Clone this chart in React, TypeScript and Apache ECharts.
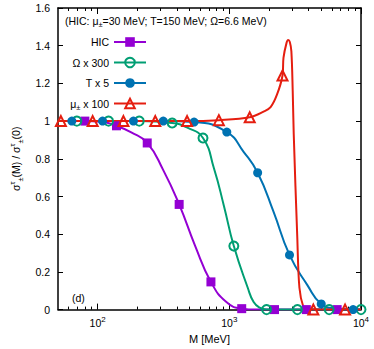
import React, { useEffect, useRef } from 'react';
import * as echarts from 'echarts';

const FONT = '"Liberation Sans", Arial, Helvetica, sans-serif';

// HIC (purple squares)
const hicMarkM = [80, 139, 238, 416, 725, 1242, 2203, 3846, 6590];
const hicMarkV = [1.0, 0.975, 0.884, 0.558, 0.147, 0.005, 0, 0, 0];
const hicCurveM = [50, 105, 180, 315, 549, 950, 1600, 10000];
const hicCurveV = [1.0, 0.997, 0.94, 0.74, 0.34, 0.04, 0.0, 0];

// Omega x 300 (green open circles)
const omegaMarkM = [69.5, 121, 207, 368, 631, 1082, 1918, 3290, 5730, 10000];
const omegaMarkV = [1, 1, 1, 0.99, 0.91, 0.337, 0, 0, 0, 0];
const omegaCurveM = [50, 480, 764, 910, 1380, 1530, 1700];
const omegaCurveV = [1, 0.965, 0.75, 0.55, 0.116, 0.04, 0.01];

// T x 5 (blue filled circles)
const tMarkM = [63.7, 109, 187, 315, 540, 957, 1641, 2864, 4990, 8710];
const tMarkV = [1, 1, 1, 1, 0.995, 0.942, 0.726, 0.29, 0.03, 0];
const tCurveM = [50, 1284, 2165, 3915, 6500, 10000];
const tCurveV = [1, 0.837, 0.52, 0.13, 0.006, 0];

// mu x 100 (red triangles)
const muMarkM = [52.6, 91.7, 157, 274, 478, 833, 1429, 2535, 4347, 7570];
const muMarkV = [1, 1, 1, 1, 1, 1.005, 1.02, 1.242, 0, 0];
const muCurveM = [50, 1820, 2058, 2300, 2578, 2720, 2800, 2880, 2960, 3030, 3085, 3283, 3407, 3648, 3900, 10000];
const muCurveV = [1, 1.05, 1.074, 1.14, 1.335, 1.415, 1.43, 1.42, 1.37, 1.16, 0.93, 0.38, 0.116, 0.015, 0, 0];

const seriesNames = ['HIC', 'Ω x 300', 'T x 5', 'μ± x 100'];
const yTicks = [0, 0.2, 0.4, 0.6, 0.8, 1, 1.2, 1.4, 1.6];
const xMajor = [100, 1000, 10000];
const xMinor = [60, 70, 80, 90, 200, 300, 400, 500, 600, 700, 800, 900, 2000, 3000, 4000, 5000, 6000, 7000, 8000, 9000];

function build(markM: number[], markV: number[], curveM: number[], curveV: number[]) {
  const pts: { v: number[]; mark: boolean }[] = [];
  markM.forEach((m, i) => pts.push({ v: [m, markV[i]], mark: true }));
  curveM.forEach((m, i) => pts.push({ v: [m, curveV[i]], mark: false }));
  pts.sort((a, b) => a.v[0] - b.v[0]);
  return pts.map((p) => (p.mark ? { value: p.v } : { value: p.v, symbol: 'none' }));
}

const rich = {
  t: { fontSize: 10.5, fontFamily: FONT, color: '#000', lineHeight: 16 },
  sub: { fontSize: 7.5, fontFamily: FONT, color: '#000', lineHeight: 8, verticalAlign: 'bottom' },
  sup: { fontSize: 7.5, fontFamily: FONT, color: '#000', lineHeight: 8, verticalAlign: 'top' },
};

export default function App() {
  const ref = useRef<HTMLDivElement>(null);
  useEffect(() => {
    if (!ref.current) return;
    const chart = echarts.init(ref.current, undefined, { renderer: 'svg' });
    const colors = ['#9400d3', '#009e73', '#0072b2', '#e51e10'];
    const datas = [
      build(hicMarkM, hicMarkV, hicCurveM, hicCurveV),
      build(omegaMarkM, omegaMarkV, omegaCurveM, omegaCurveV),
      build(tMarkM, tMarkV, tCurveM, tCurveV),
      build(muMarkM, muMarkV, muCurveM, muCurveV),
    ];
    const symbols = ['rect', 'circle', 'circle', 'triangle'];
    const sizes = [9, 9, 9, 10];
    const hollow = [false, true, false, true];
    const smooths = [0.5, 0.5, 0.5, 0.35];
    const series = seriesNames.map((name, i) => ({
      name,
      type: 'line',
      data: datas[i],
      smooth: smooths[i],
      symbol: symbols[i],
      symbolSize: sizes[i],
      showSymbol: true,
      showAllSymbol: true,
      silent: true,
      clip: true,
      lineStyle: { color: colors[i], width: 2 },
      itemStyle: hollow[i]
        ? { color: 'rgba(255,255,255,0)', borderColor: colors[i], borderWidth: 2 }
        : { color: colors[i] },
      emphasis: { disabled: true },
    }));

    const axisLineStyle = { color: '#000', width: 1.5 };
    const xBase = {
      type: 'log',
      logBase: 10,
      min: 50,
      max: 10000,
      splitLine: { show: false },
    };
    const option: any = {
      animation: false,
      backgroundColor: '#fff',
      grid: { left: 56, right: 13, top: 8, bottom: 37, containLabel: false },
      legend: {
        data: seriesNames,
        orient: 'vertical',
        right: 227,
        top: 34,
        padding: 0,
        itemWidth: 32,
        itemHeight: 12,
        itemGap: 4.5,
        align: 'right',
        selectedMode: false,
        textStyle: { fontSize: 10.5, fontFamily: FONT, color: '#000', lineHeight: 12, rich },
        formatter: (n: string) => (n === 'μ± x 100' ? '{t|μ}{sub|±}{t| x 100}' : '{t|' + n + '}'),
      },
      xAxis: [
        {
          ...xBase,
          position: 'bottom',
          name: 'M [MeV]',
          nameLocation: 'middle',
          nameGap: 22,
          nameTextStyle: { fontSize: 11, fontFamily: FONT, color: '#000' },
          axisLine: { show: true, onZero: false, lineStyle: axisLineStyle },
          axisTick: { show: true, inside: true, length: 6, customValues: xMajor, lineStyle: { color: '#000' } },
          axisLabel: {
            show: true,
            customValues: xMajor,
            margin: 6,
            formatter: (v: number) => '{b|10}{s|' + Math.round(Math.log10(v)) + '}',
            rich: {
              b: { fontSize: 10.5, fontFamily: FONT, color: '#000', lineHeight: 14 },
              s: { fontSize: 8, fontFamily: FONT, color: '#000', lineHeight: 8, verticalAlign: 'top' },
            },
          },
        },
        {
          ...xBase,
          position: 'bottom',
          axisLine: { show: false, onZero: false },
          axisTick: { show: true, inside: true, length: 3, customValues: xMinor, lineStyle: { color: '#000' } },
          axisLabel: { show: false },
        },
        {
          ...xBase,
          position: 'top',
          axisLine: { show: true, onZero: false, lineStyle: axisLineStyle },
          axisTick: { show: true, inside: true, length: 6, customValues: xMajor, lineStyle: { color: '#000' } },
          axisLabel: { show: false },
        },
        {
          ...xBase,
          position: 'top',
          axisLine: { show: false, onZero: false },
          axisTick: { show: true, inside: true, length: 3, customValues: xMinor, lineStyle: { color: '#000' } },
          axisLabel: { show: false },
        },
      ],
      yAxis: [
        {
          type: 'value',
          min: yTicks[0],
          max: yTicks[yTicks.length - 1],
          interval: 0.2,
          position: 'left',
          splitLine: { show: false },
          axisLine: { show: true, onZero: false, lineStyle: axisLineStyle },
          axisTick: { show: true, inside: true, length: 5, lineStyle: { color: '#000' } },
          axisLabel: { margin: 8, fontSize: 10.5, fontFamily: FONT, color: '#000' },
          name: '{t|σ}{sup|τ}{sub|±}{t|(M) / σ}{sup|τ}{sub|±}{t|(0)}',
          nameLocation: 'middle',
          nameGap: 34,
          nameTextStyle: { rich },
        },
        {
          type: 'value',
          min: yTicks[0],
          max: yTicks[yTicks.length - 1],
          interval: 0.2,
          position: 'right',
          splitLine: { show: false },
          axisLine: { show: true, onZero: false, lineStyle: axisLineStyle },
          axisTick: { show: true, inside: true, length: 5, lineStyle: { color: '#000' } },
          axisLabel: { show: false },
        },
      ],
      graphic: [
        {
          type: 'text',
          left: 65,
          top: 15,
          silent: true,
          style: {
            text: '{t|(HIC: μ}{sub|±}{t|=30 MeV; T=150 MeV; Ω=6.6 MeV)}',
            rich,
          },
        },
        {
          type: 'text',
          left: 72,
          top: 292,
          silent: true,
          style: { text: '(d)', fontSize: 10.5, fontFamily: FONT, fill: '#000' },
        },
      ],
      series,
    };
    chart.setOption(option);
    return () => chart.dispose();
  }, []);
  return <div ref={ref} style={{ position: 'fixed', left: 0, top: 0, width: 374, height: 349 }} />;
}
